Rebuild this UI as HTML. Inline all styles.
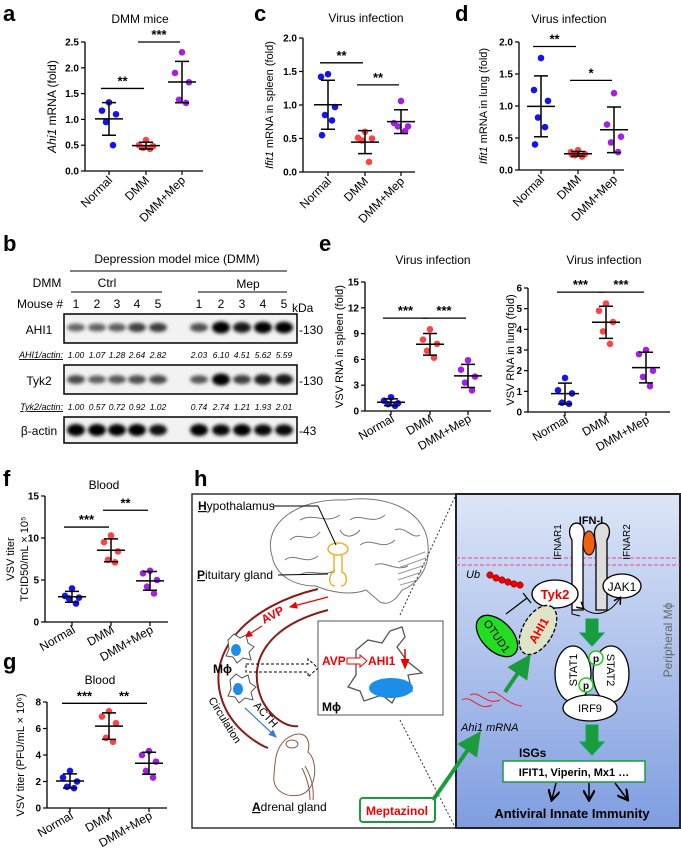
<!DOCTYPE html>
<html><head><meta charset="utf-8"><style>
html,body{margin:0;padding:0;background:#fff}
svg{display:block;font-family:"Liberation Sans",sans-serif}
</style></head><body>
<svg id="fig" width="681" height="848" viewBox="0 0 681 848" xmlns="http://www.w3.org/2000/svg">
<defs>
<filter id="blur" x="-30%" y="-80%" width="160%" height="260%"><feGaussianBlur stdDeviation="1.8"/></filter>
<linearGradient id="bg" x1="0" y1="0" x2="0" y2="1"><stop offset="0" stop-color="#dde6f7"/><stop offset="1" stop-color="#7f9de0"/></linearGradient>
<marker id="ah" markerWidth="8" markerHeight="8" refX="6" refY="4" orient="auto"><path d="M0,0 L7,4 L0,8" fill="none" stroke="#000" stroke-width="1.5"/></marker>
<marker id="ahr" markerWidth="8" markerHeight="8" refX="6" refY="4" orient="auto"><path d="M0,1 L7,4 L0,7 Z" fill="#e00"/></marker>
<marker id="ahb" markerWidth="8" markerHeight="8" refX="6" refY="4" orient="auto"><path d="M0,1 L7,4 L0,7 Z" fill="#3a7bd5"/></marker>
<marker id="ahg" markerWidth="6" markerHeight="6" refX="3" refY="3" orient="auto"><path d="M0,0 L6,3 L0,6 Z" fill="#1a9c3c"/></marker>
</defs>
<rect width="681" height="848" fill="#fff"/>

<g font-weight="bold" font-size="22">
<text x="3" y="21">a</text>
<text x="254" y="21">c</text>
<text x="455" y="21">d</text>
<text x="3" y="251">b</text>
<text x="319" y="251">e</text>
<text x="3" y="486">f</text>
<text x="3" y="669">g</text>
<text x="194" y="486">h</text>
</g>

<g id="charts"></g>

<g id="blot" font-size="12">
<text x="177" y="263" text-anchor="middle">Depression model mice (DMM)</text>
<line x1="70" y1="271" x2="287" y2="271" stroke="#000"/>
<text x="47" y="287" text-anchor="middle">DMM</text>
<text x="107" y="287" text-anchor="middle">Ctrl</text>
<text x="248" y="288" text-anchor="middle">Mep</text>
<line x1="71" y1="292" x2="162" y2="292" stroke="#000"/>
<line x1="198" y1="292" x2="287" y2="292" stroke="#000"/>
<text x="63" y="308" text-anchor="end">Mouse #</text>
<text x="292" y="312">kDa</text>
<g id="lanes"></g>
<text x="39" y="334" text-anchor="middle">AHI1</text>
<text x="39" y="385" text-anchor="middle">Tyk2</text>
<text x="39" y="435" text-anchor="middle">β-actin</text>
<text x="299" y="334">-130</text>
<text x="299" y="385">-130</text>
<text x="299" y="435">-43</text>
<text x="63" y="358" text-anchor="end" font-size="9" font-style="italic" text-decoration="underline">AHI1/actin:</text>
<text x="63" y="410" text-anchor="end" font-size="9" font-style="italic" text-decoration="underline">Tyk2/actin:</text>
</g>

<g id="schematic">
<rect x="192" y="494" width="264" height="334" fill="#fff" stroke="#333" stroke-width="1.5"/>
<rect x="456" y="494" width="224" height="334" fill="url(#bg)" stroke="#222" stroke-width="2"/>
<g fill="none" stroke="#777" stroke-width="1">
<path d="M272,556 C262,522 300,498 345,500 C385,494 426,510 428,545 C430,568 418,584 402,590 C396,600 388,606 380,602 L366,590 C350,596 330,592 316,586 C294,586 276,576 272,556 Z" fill="#fff"/>
<path d="M290,540 C300,530 310,545 320,532 M300,520 C315,512 325,525 340,515 M350,520 C360,512 372,526 385,515 M395,530 C405,525 412,540 420,535 M285,560 C295,552 305,566 318,556 M360,545 C372,536 382,552 395,540 M340,530 C345,540 355,536 360,530 M300,575 C310,568 325,578 335,570 M375,565 C385,560 395,572 408,566"/>
<path d="M398,562 L425,552 M398,568 L426,558 M398,574 L425,565 M398,580 L422,572 M400,585 L418,580" stroke="#999"/>
</g>
<g fill="none" stroke="#f0b030" stroke-width="1.5">
<ellipse cx="338" cy="549" rx="10" ry="6"/>
<path d="M334,555 L334,572 C328,574 328,586 335,586 M342,555 L342,572 C348,574 348,586 341,586"/>
</g>
<text x="198" y="510" font-size="12"><tspan font-weight="bold" text-decoration="underline">H</tspan>ypothalamus</text>
<line x1="273" y1="506" x2="318" y2="506" stroke="#000"/>
<line x1="318" y1="506" x2="336" y2="545" stroke="#000"/>
<text x="197" y="579" font-size="12"><tspan font-weight="bold" text-decoration="underline">P</tspan>ituitary gland</text>
<line x1="278" y1="575" x2="328" y2="574" stroke="#000"/>
<path d="M318,589 C250,605 205,650 222,700 C232,730 260,745 268,748" fill="none" stroke="#8b1a1a" stroke-width="2"/>
<path d="M328,610 C270,625 245,660 262,700 C272,720 290,728 298,726" fill="none" stroke="#8b1a1a" stroke-width="2"/>
<line x1="328" y1="597" x2="290" y2="607" stroke="#e00" stroke-width="1.2" marker-end="url(#ahr)"/>
<line x1="262" y1="626" x2="245" y2="637" stroke="#e00" stroke-width="1.2" marker-end="url(#ahr)"/>
<text x="264" y="624" font-size="12" font-weight="bold" fill="#e00" transform="rotate(-28 264 624)">AVP</text>
<g>
<path d="M228,640 l6,-6 l6,4 l6,-3 l2,8 l6,4 l-5,5 l2,8 l-8,-2 l-6,5 l-4,-6 l-7,-1 l3,-7 z" fill="#fff" stroke="#555"/>
<ellipse cx="236" cy="650" rx="5" ry="6" fill="#1a8ee8"/>
<path d="M230,680 l6,-6 l6,4 l6,-3 l2,8 l6,4 l-5,5 l2,8 l-8,-2 l-6,5 l-4,-6 l-7,-1 l3,-7 z" fill="#fff" stroke="#555"/>
<ellipse cx="238" cy="689" rx="5" ry="6" fill="#1a8ee8"/>
</g>
<text x="213" y="673" font-size="12" font-weight="bold">Mϕ</text>
<path d="M246,664 L308,664 L308,659 L318,668 L308,677 L308,672 L246,672 Z" fill="none" stroke="#000" stroke-dasharray="3,2"/>
<text x="208" y="700" font-size="11" transform="rotate(58 208 700)">Circulation</text>
<text x="253" y="706" font-size="11" transform="rotate(48 253 706)">ACTH</text>
<line x1="245" y1="708" x2="276" y2="737" stroke="#3a7bd5" stroke-width="1.2" marker-end="url(#ahb)"/>
<g fill="none" stroke="#8a5a44" stroke-width="1">
<path d="M285,740 C300,728 312,735 308,752 C318,760 318,790 300,795 C285,798 272,790 274,775 C275,760 276,748 285,740 Z"/>
<ellipse cx="292" cy="744" rx="6" ry="4"/>
<path d="M302,768 C308,780 310,790 310,800 M305,766 C312,778 314,790 313,800"/>
</g>
<text x="252" y="811" font-size="12"><tspan font-weight="bold" text-decoration="underline">A</tspan>drenal gland</text>
<rect x="318" y="621" width="125" height="94" fill="#fff" stroke="#555"/>
<path d="M356,650 l12,-10 l14,3 l8,-12 l12,-4 l3,10 l-8,10 l10,14 l15,12 l-14,2 l4,16 l-12,-3 l-8,15 l-10,-8 l-18,6 l-4,-10 l-12,-4 l8,-12 z" fill="#fff" stroke="#555" stroke-width="1.3"/>
<ellipse cx="391" cy="688" rx="22" ry="10" fill="#1a8ee8"/>
<text x="322" y="665" font-size="12" font-weight="bold" fill="#e00">AVP</text>
<path d="M347,658 L360,658 L360,655 L367,661 L360,667 L360,664 L347,664 Z" fill="#fff" stroke="#e00"/>
<text x="368" y="665" font-size="12" font-weight="bold" fill="#e00">AHI1</text>
<line x1="405" y1="649" x2="405" y2="668" stroke="#e00" stroke-width="1.5" marker-end="url(#ahr)"/>
<text x="322" y="711" font-size="12" font-weight="bold">Mϕ</text>
<line x1="400" y1="615" x2="455" y2="497" stroke="#333" stroke-dasharray="2,2"/>
<line x1="400" y1="720" x2="455" y2="827" stroke="#333" stroke-dasharray="2,2"/>
<rect x="360" y="798" width="75" height="24" rx="3" fill="#fff" stroke="#1a9c3c" stroke-width="2"/>
<text x="397" y="815" font-size="12" font-weight="bold" fill="#e00" text-anchor="middle">Meptazinol</text>
<line x1="433" y1="800" x2="474" y2="741" stroke="#1a9c3c" stroke-width="4" marker-end="url(#ahg)"/>
<line x1="456" y1="558" x2="680" y2="558" stroke="#ee4488" stroke-dasharray="4,2"/>
<line x1="456" y1="565" x2="680" y2="565" stroke="#ee4488" stroke-dasharray="4,2"/>
<path d="M572,610 L572,540 C566,530 572,520 580,524 C586,528 584,535 583,545 L583,610 Z" fill="#fff" stroke="#000" stroke-width="1.3"/>
<path d="M596,610 L596,545 C594,535 593,528 599,524 C607,520 613,530 607,540 L607,610 Z" fill="#ddd" stroke="#000" stroke-width="1.3"/>
<path d="M572,606 L572,614 L580,616" fill="none" stroke="#000"/>
<ellipse cx="589" cy="543" rx="6" ry="12" fill="#f06010" stroke="#000"/>
<text x="591" y="524" font-size="11" font-weight="bold" text-anchor="middle">IFN-I</text>
<text x="561" y="542" font-size="10" transform="rotate(-90 561 542)" text-anchor="middle">IFNAR1</text>
<text x="630" y="542" font-size="10" transform="rotate(-90 630 542)" text-anchor="middle">IFNAR2</text>
<text x="466" y="578" font-size="11" font-style="italic">Ub</text>
<g fill="#e00" stroke="#600" stroke-width="0.5">
<circle cx="490" cy="575" r="3.3"/><circle cx="496" cy="578" r="3.3"/><circle cx="502" cy="580" r="3.3"/><circle cx="508" cy="582" r="3.3"/><circle cx="514" cy="584" r="3.3"/><circle cx="520" cy="585" r="3.3"/></g>
<ellipse cx="555" cy="594" rx="23" ry="14" fill="#fff" stroke="#000" stroke-width="1.3"/>
<text x="555" y="599" font-size="13" font-weight="bold" fill="#e00" text-anchor="middle">Tyk2</text>
<ellipse cx="622" cy="586" rx="19" ry="12" fill="#fff" stroke="#000" stroke-width="1.3"/>
<text x="622" y="591" font-size="12" text-anchor="middle">JAK1</text>
<path d="M583,608 C595,618 610,614 620,598" fill="none" stroke="#000" marker-end="url(#ah)" marker-start="url(#ah)"/>
<line x1="506" y1="614" x2="527" y2="598" stroke="#000" stroke-width="1.2"/>
<line x1="523" y1="593" x2="531" y2="603" stroke="#000" stroke-width="1.2"/>
<ellipse cx="497" cy="636" rx="25" ry="15" fill="#22dd22" stroke="#000" stroke-width="1.3" transform="rotate(45 497 636)"/>
<text x="497" y="640" font-size="11" text-anchor="middle" transform="rotate(55 497 636)">OTUD1</text>
<ellipse cx="538" cy="630" rx="27" ry="15" fill="#dfe3c8" stroke="#000" stroke-width="1.3" stroke-dasharray="4,2" transform="rotate(-60 538 630)"/>
<text x="538" y="635" font-size="12" font-weight="bold" fill="#e00" text-anchor="middle" transform="rotate(-60 538 630)">AHI1</text>
<path d="M586,619 L598,619 L598,633 L604,633 L592,646 L580,633 L586,633 Z" fill="#1a9c3c" stroke="#0a5"/>
<ellipse cx="573" cy="674" rx="18" ry="28" fill="#fff" stroke="#000" stroke-width="1.3"/>
<ellipse cx="611" cy="674" rx="18" ry="28" fill="#fff" stroke="#000" stroke-width="1.3"/>
<text x="577" y="678" font-size="11" transform="rotate(-90 573 674)" text-anchor="middle">STAT1</text>
<text x="607" y="678" font-size="11" transform="rotate(90 611 674)" text-anchor="middle">STAT2</text>
<circle cx="596" cy="658" r="7" fill="#fff" stroke="#2c2" stroke-width="1.5"/><text x="596" y="662" font-size="10" font-weight="bold" text-anchor="middle">p</text>
<circle cx="586" cy="685" r="7" fill="#fff" stroke="#2c2" stroke-width="1.5"/><text x="586" y="689" font-size="10" font-weight="bold" text-anchor="middle">p</text>
<ellipse cx="590" cy="708" rx="27" ry="13" fill="#fff" stroke="#000" stroke-width="1.3"/>
<text x="590" y="712" font-size="11" text-anchor="middle">IRF9</text>
<path d="M586,725 L598,725 L598,742 L604,742 L592,755 L580,742 L586,742 Z" fill="#1a9c3c" stroke="#0a5"/>
<path d="M462,700 C472,694 478,712 492,705 M470,695 C480,690 486,706 500,700 M488,693 C498,688 504,704 522,706" fill="none" stroke="#e22" stroke-width="1"/>
<text x="461" y="731" font-size="11" font-style="italic">Ahi1 mRNA</text>
<line x1="505" y1="692" x2="524" y2="664" stroke="#1a9c3c" stroke-width="4" marker-end="url(#ahg)"/>
<text x="519" y="757" font-size="12" font-weight="bold">ISGs</text>
<rect x="503" y="761" width="142" height="21" fill="#fff" stroke="#1a9c3c" stroke-width="1.5"/>
<text x="574" y="776" font-size="11" font-weight="bold" text-anchor="middle">IFIT1, Viperin, Mx1 …</text>
<line x1="556" y1="783" x2="552" y2="799" stroke="#000" stroke-width="1.5" marker-end="url(#ah)"/>
<line x1="589" y1="783" x2="589" y2="799" stroke="#000" stroke-width="1.5" marker-end="url(#ah)"/>
<line x1="615" y1="783" x2="627" y2="799" stroke="#000" stroke-width="1.5" marker-end="url(#ah)"/>
<text x="572" y="818" font-size="13" font-weight="bold" text-anchor="middle">Antiviral Innate Immunity</text>
<text x="672" y="640" font-size="12" fill="#666" transform="rotate(-90 672 640)" text-anchor="middle">Peripheral Mϕ</text>
</g>
</svg>
<script>
const groups = ["Normal", "DMM", "DMM+Mep"];
const aNormal = [1.33, 1.17, 1.1, 0.95, 0.5];
const aDMM = [0.6, 0.5, 0.48, 0.45, 0.43];
const aMep = [2.3, 1.9, 1.72, 1.38, 1.32];
const aTicks = ["0.0", "0.5", "1.0", "1.5", "2.0", "2.5"];
const cNormal = [1.46, 1.42, 0.97, 0.85, 0.77, 0.55];
const cDMM = [0.6, 0.51, 0.5, 0.47, 0.15];
const cMep = [1.06, 0.73, 0.68, 0.68, 0.61];
const cTicks = ["0.0", "0.5", "1.0", "1.5", "2.0"];
const dNormal = [1.75, 1.25, 1.08, 0.82, 0.67, 0.4];
const dDMM = [0.31, 0.28, 0.25, 0.23, 0.21, 0.24];
const dMep = [1.2, 0.71, 0.52, 0.43, 0.28];
const dTicks = ["0.0", "0.5", "1.0", "1.5", "2.0"];
const eSpleenNormal = [1.6, 1.2, 0.9, 0.8, 0.6];
const eSpleenDMM = [9.5, 8.3, 7.8, 7.0, 6.2];
const eSpleenMep = [5.9, 4.8, 4.0, 3.3, 2.4];
const eSpleenTicks = ["0", "3", "6", "9", "12", "15"];
const eLungNormal = [1.65, 1.05, 0.9, 0.45, 0.4];
const eLungDMM = [5.25, 4.9, 4.35, 3.9, 3.3];
const eLungMep = [3.0, 2.8, 2.0, 1.7, 1.25];
const eLungTicks = ["0", "1", "2", "3", "4", "5", "6"];
const fNormal = [4.0, 3.1, 2.9, 2.8, 2.2];
const fDMM = [10.3, 9.5, 8.4, 7.4, 7.1];
const fMep = [6.1, 5.8, 5.0, 4.2, 3.4];
const fTicks = ["0", "5", "10", "15"];
const gNormal = [2.8, 2.3, 2.0, 1.6, 1.5];
const gDMM = [7.3, 6.9, 6.4, 5.3, 5.0];
const gMep = [4.3, 4.0, 3.5, 2.8, 2.3];
const gTicks = ["0", "2", "4", "6", "8"];
const ahi1Ratios = [1.00, 1.07, 1.28, 2.64, 2.82, 2.03, 6.10, 4.51, 5.62, 5.59];
const tyk2Ratios = [1.00, 0.57, 0.72, 0.92, 1.02, 0.74, 2.74, 1.21, 1.93, 2.01];
const actinLevels = [1, 1, 0.95, 1, 0.85, 1, 0.9, 0.95, 0.9, 0.9];
const mouseIds = ["1","2","3","4","5","1","2","3","4","5"];

const NS = "http://www.w3.org/2000/svg";
const colors = ["#1414f0", "#ff4444", "#a51ee6"];
function mk(tag, attrs, parent, txt){
  const e = document.createElementNS(NS, tag);
  for (const k in attrs) e.setAttribute(k, attrs[k]);
  if (txt !== undefined) e.textContent = txt;
  parent.appendChild(e); return e;
}
const mean = a => a.reduce((s,v)=>s+v,0)/a.length;
const sd = a => { const m = mean(a); return Math.sqrt(a.reduce((s,v)=>s+(v-m)*(v-m),0)/(a.length-1)); };
const jit = [0, -7, 7, -3, 4, -6];

function chart(p){
  const root = document.getElementById("charts");
  const g = mk("g", {}, root);
  
  
  const max = parseFloat(p.ticks[p.ticks.length-1]);
  const y = v => p.yBot - v / max * (p.yBot - p.yTop);
  const x = i => p.cats[i];
  const t = mk("text", {x: p.titleX, y: p.titleY, "font-size": 12, "text-anchor": "middle"}, g, p.title);
  
  
  const ax = mk("path", {d: `M${p.x0},${p.yTop} L${p.x0},${p.yBot} L${p.xEnd},${p.yBot}`, fill: "none", stroke: "#000", "stroke-width": 1.3}, g);
  
  
  p.ticks.forEach(tk => {
    const v = parseFloat(tk);
    mk("line", {x1: p.x0-4, x2: p.x0, y1: y(v), y2: y(v), stroke: "#000", "stroke-width": 1.2}, g);
    const tl = mk("text", {x: p.x0-6, y: y(v)+3.5, "font-size": 10, "font-weight": "bold", "text-anchor": "end"}, g, tk);
    
    
  });
  const ym = (p.yTop + p.yBot)/2;
  p.ylabel.forEach((line, li) => {
    const lx = p.ylx + li * 14;
    const yt = mk("text", {x: lx, y: ym, "font-size": p.ylSize || 12, "text-anchor": "middle", transform: `rotate(-90 ${lx} ${ym})`}, g);
    
    
    line.forEach(part => {
      const ts = mk("tspan", {}, yt, part[0]);
      if (part[1]) ts.setAttribute("font-style", "italic");
    });
  });
  p.series.forEach((vals, i) => {
    const cx = x(i);
    mk("line", {x1: cx, x2: cx, y1: p.yBot, y2: p.yBot+4, stroke: "#000", "stroke-width": 1.2}, g);
    const lx = cx + 4, ly = p.yBot + 10;
    const xl = mk("text", {x: lx, y: ly, "font-size": 12, "text-anchor": "end", transform: `rotate(${-p.rot} ${lx} ${ly})`}, g, groups[i]);
    
    
    vals.forEach((v, j) => {
      const c = mk("circle", {cx: cx + jit[j % jit.length], cy: y(v), r: 3.3, fill: colors[i]}, g);
      
      
    });
    const m = mean(vals), s = sd(vals);
    const lo = y(Math.max(0, m-s)), hi = y(m+s);
    const mb = mk("path", {d: `M${cx-14},${y(m)} L${cx+14},${y(m)} M${cx},${hi} L${cx},${lo} M${cx-7},${hi} L${cx+7},${hi} M${cx-7},${lo} L${cx+7},${lo}`, stroke: "#000", "stroke-width": 1.5, fill: "none"}, g);
    
    
  });
  p.sig.forEach(s => {
    const sy = y(s[2]);
    const x1 = x(s[0]) - 8, x2 = x(s[1]) - 2;
    mk("line", {x1: x1, x2: x2, y1: sy, y2: sy, stroke: "#000", "stroke-width": 1.3}, g);
    const st = mk("text", {x: (x1 + x2)/2, y: sy - 3, "font-size": 13, "font-weight": "bold", "text-anchor": "middle"}, g, s[3]);
    
    
  });
}

chart({name: "chart-a-ahi1-mrna", title: "DMM mice", titleX: 140, titleY: 23, x0: 85, xEnd: 203, yTop: 42, yBot: 171, cats: [109,146,182], ticks: aTicks, series: [aNormal, aDMM, aMep], ylx: 56, ylabel: [[["Ahi1", true], [" mRNA (fold)"]]], rot: 45, sig: [[0,1,1.6,"**"],[1,2,2.5,"***"]]});
chart({name: "chart-c-ifit1-spleen", title: "Virus infection", titleX: 366, titleY: 22, x0: 303, xEnd: 415, yTop: 38, yBot: 172, cats: [328,365,401], ticks: cTicks, series: [cNormal, cDMM, cMep], ylx: 273, ylSize: 11, ylabel: [[["Ifit1", true], [" mRNA in spleen (fold)"]]], rot: 45, sig: [[0,1,1.63,"**"],[1,2,1.3,"**"]]});
chart({name: "chart-d-ifit1-lung", title: "Virus infection", titleX: 569, titleY: 23, x0: 519, xEnd: 624, yTop: 42, yBot: 170, cats: [541,578,614], ticks: dTicks, series: [dNormal, dDMM, dMep], ylx: 487, ylSize: 11, ylabel: [[["Ifit1", true], [" mRNA in lung (fold)"]]], rot: 45, sig: [[0,1,1.93,"**"],[1,2,1.4,"*"]]});
chart({name: "chart-e-vsv-spleen", title: "Virus infection", titleX: 433, titleY: 264, x0: 365, xEnd: 491, yTop: 282, yBot: 411, cats: [391,430,468], ticks: eSpleenTicks, series: [eSpleenNormal, eSpleenDMM, eSpleenMep], ylx: 343, ylSize: 11, ylabel: [[["VSV RNA in spleen (fold)"]]], rot: 30, sig: [[0,1,10.8,"***"],[1,2,10.8,"***"]]});
chart({name: "chart-e-vsv-lung", title: "Virus infection", titleX: 604, titleY: 264, x0: 528, xEnd: 670, yTop: 288, yBot: 412, cats: [565,606,646], ticks: eLungTicks, series: [eLungNormal, eLungDMM, eLungMep], ylx: 514, ylSize: 11, ylabel: [[["VSV RNA in lung (fold)"]]], rot: 30, sig: [[0,1,5.8,"***"],[1,2,5.8,"***"]]});
chart({name: "chart-f-blood-tcid50", title: "Blood", titleX: 104, titleY: 489, x0: 45, xEnd: 168, yTop: 496, yBot: 622, cats: [72,111,150], ticks: fTicks, series: [fNormal, fDMM, fMep], ylx: 14, ylSize: 11, ylabel: [[["VSV titer"]], [["TCID50/mL × 10⁵"]]], rot: 30, sig: [[0,1,11.3,"***"],[1,2,13.3,"**"]]});
chart({name: "chart-g-blood-pfu", title: "Blood", titleX: 100, titleY: 684, x0: 47, xEnd: 167, yTop: 702, yBot: 808, cats: [70,109,149], ticks: gTicks, series: [gNormal, gDMM, gMep], ylx: 24, ylSize: 11, ylabel: [[["VSV titer (PFU/mL × 10⁶)"]]], rot: 30, sig: [[0,1,7.9,"***"],[1,2,7.9,"**"]]});

(function(){
  const lanes = document.getElementById("lanes");
  const laneX = [76,97,117,137,158,199,221,242,263,284];
  const rows = [[314, 343, ahi1Ratios, 6.1], [365, 394, tyk2Ratios, 2.74], [417, 443, actinLevels, 1]];
  rows.forEach((r, ri) => {
    const box = mk("rect", {x: 64, y: r[0], width: 233, height: r[1]-r[0], fill: "#f2f2f2", stroke: "#000", "stroke-width": 1.5}, lanes);
    
    
    r[2].forEach((v, i) => {
      const k = ri === 2 ? v : 0.3 + 0.7 * v / r[3];
      const b = mk("ellipse", {cx: laneX[i], cy: (r[0]+r[1])/2 + (ri===0?-1:0), rx: 9, ry: 2.5 + 3.5*k, fill: "#000", opacity: Math.min(1, 0.25 + 0.8*k), filter: "url(#blur)"}, lanes);
      
      
    });
  });
  laneX.forEach((lx, i) => {
    const m = mk("text", {x: lx, y: 308, "font-size": 12, "text-anchor": "middle"}, lanes, mouseIds[i]);
    
    
    const a = mk("text", {x: lx, y: 358, "font-size": 8.5, "font-style": "italic", "text-anchor": "middle"}, lanes, ahi1Ratios[i].toFixed(2));
    
    
    const t = mk("text", {x: lx, y: 410, "font-size": 8.5, "font-style": "italic", "text-anchor": "middle"}, lanes, tyk2Ratios[i].toFixed(2));
    
    
  });
})();
</script>
</body></html>
